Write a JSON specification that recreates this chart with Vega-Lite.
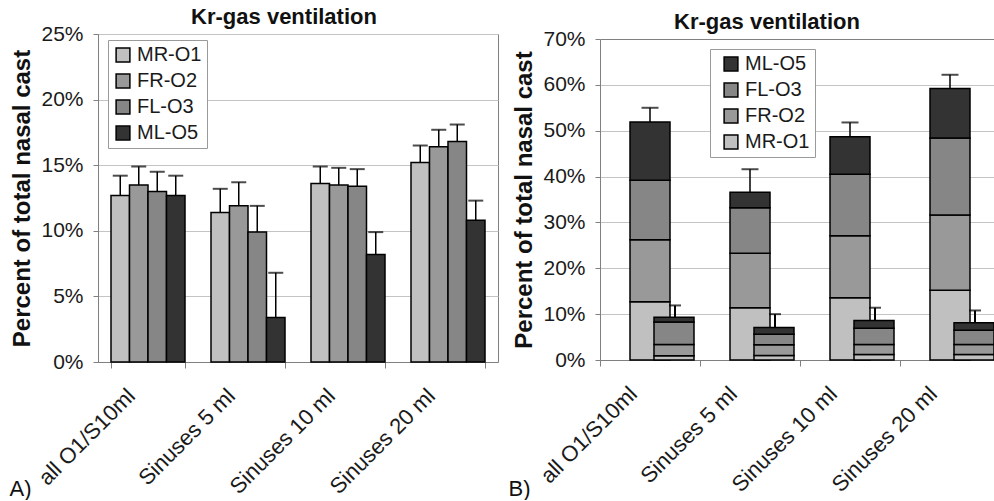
{
  "$schema": "https://vega.github.io/schema/vega-lite/v6.json",
  "background": "white",
  "padding": {"left": 8, "top": 5, "right": 0, "bottom": 0},
  "config": {
    "font": "Liberation Sans",
    "view": {"stroke": "#808080", "strokeWidth": 1},
    "axis": {
      "labelFont": "Liberation Sans",
      "titleFont": "Liberation Sans",
      "domainColor": "#808080",
      "tickColor": "#808080",
      "gridColor": "#c4c4c4",
      "labelColor": "#1a1a1a",
      "titleColor": "#111111"
    },
    "legend": {
      "labelFont": "Liberation Sans",
      "labelFontSize": 20,
      "labelColor": "#1a1a1a",
      "strokeColor": "#9a9a9a",
      "fillColor": "white",
      "padding": 5,
      "rowPadding": 6,
      "symbolType": "square",
      "symbolSize": 190,
      "symbolStrokeColor": "black",
      "symbolStrokeWidth": 1.5,
      "symbolOpacity": 1
    }
  },
  "datasets": {
    "bars": [
      {"category": "all O1/S10ml", "series": "MR-O1", "idx": 1, "value": 12.7, "hi": 14.2},
      {"category": "all O1/S10ml", "series": "FR-O2", "idx": 2, "value": 13.5, "hi": 14.9},
      {"category": "all O1/S10ml", "series": "FL-O3", "idx": 3, "value": 13.0, "hi": 14.5},
      {"category": "all O1/S10ml", "series": "ML-O5", "idx": 4, "value": 12.7, "hi": 14.2},
      {"category": "Sinuses 5 ml", "series": "MR-O1", "idx": 1, "value": 11.4, "hi": 13.2},
      {"category": "Sinuses 5 ml", "series": "FR-O2", "idx": 2, "value": 11.9, "hi": 13.7},
      {"category": "Sinuses 5 ml", "series": "FL-O3", "idx": 3, "value": 9.9, "hi": 11.9},
      {"category": "Sinuses 5 ml", "series": "ML-O5", "idx": 4, "value": 3.4, "hi": 6.8},
      {"category": "Sinuses 10 ml", "series": "MR-O1", "idx": 1, "value": 13.6, "hi": 14.9},
      {"category": "Sinuses 10 ml", "series": "FR-O2", "idx": 2, "value": 13.5, "hi": 14.8},
      {"category": "Sinuses 10 ml", "series": "FL-O3", "idx": 3, "value": 13.4, "hi": 14.7},
      {"category": "Sinuses 10 ml", "series": "ML-O5", "idx": 4, "value": 8.2, "hi": 9.9},
      {"category": "Sinuses 20 ml", "series": "MR-O1", "idx": 1, "value": 15.2, "hi": 16.5},
      {"category": "Sinuses 20 ml", "series": "FR-O2", "idx": 2, "value": 16.4, "hi": 17.7},
      {"category": "Sinuses 20 ml", "series": "FL-O3", "idx": 3, "value": 16.8, "hi": 18.1},
      {"category": "Sinuses 20 ml", "series": "ML-O5", "idx": 4, "value": 10.8, "hi": 12.3}
    ],
    "totals": [
      {"category": "all O1/S10ml", "total": 51.9, "hi": 55.0},
      {"category": "Sinuses 5 ml", "total": 36.6, "hi": 41.6},
      {"category": "Sinuses 10 ml", "total": 48.7, "hi": 51.8},
      {"category": "Sinuses 20 ml", "total": 59.2, "hi": 62.2}
    ],
    "small": [
      {"category": "all O1/S10ml", "series": "MR-O1", "idx": 1, "value": 0.9},
      {"category": "all O1/S10ml", "series": "FR-O2", "idx": 2, "value": 2.5},
      {"category": "all O1/S10ml", "series": "FL-O3", "idx": 3, "value": 4.9},
      {"category": "all O1/S10ml", "series": "ML-O5", "idx": 4, "value": 1.0},
      {"category": "Sinuses 5 ml", "series": "MR-O1", "idx": 1, "value": 1.0},
      {"category": "Sinuses 5 ml", "series": "FR-O2", "idx": 2, "value": 2.3},
      {"category": "Sinuses 5 ml", "series": "FL-O3", "idx": 3, "value": 2.3},
      {"category": "Sinuses 5 ml", "series": "ML-O5", "idx": 4, "value": 1.5},
      {"category": "Sinuses 10 ml", "series": "MR-O1", "idx": 1, "value": 1.2},
      {"category": "Sinuses 10 ml", "series": "FR-O2", "idx": 2, "value": 2.2},
      {"category": "Sinuses 10 ml", "series": "FL-O3", "idx": 3, "value": 3.5},
      {"category": "Sinuses 10 ml", "series": "ML-O5", "idx": 4, "value": 1.7},
      {"category": "Sinuses 20 ml", "series": "MR-O1", "idx": 1, "value": 1.2},
      {"category": "Sinuses 20 ml", "series": "FR-O2", "idx": 2, "value": 2.2},
      {"category": "Sinuses 20 ml", "series": "FL-O3", "idx": 3, "value": 3.1},
      {"category": "Sinuses 20 ml", "series": "ML-O5", "idx": 4, "value": 1.6}
    ],
    "smallTotals": [
      {"category": "all O1/S10ml", "total": 9.3, "hi": 11.9},
      {"category": "Sinuses 5 ml", "total": 7.1, "hi": 10.0},
      {"category": "Sinuses 10 ml", "total": 8.6, "hi": 11.4},
      {"category": "Sinuses 20 ml", "total": 8.1, "hi": 10.8}
    ]
  },
  "resolve": {
    "scale": {"x": "independent", "y": "independent", "fill": "independent"},
    "legend": {"fill": "independent"},
    "axis": {"x": "independent", "y": "independent"}
  },
  "spacing": 9,
  "hconcat": [
    {
      "width": 400,
      "height": 328,
      "title": {"text": "Kr-gas ventilation", "fontSize": 22, "fontWeight": "bold", "font": "Liberation Sans", "anchor": "middle", "dx": -14, "offset": -6, "color": "#111111"},
      "data": {"name": "bars"},
      "encoding": {
        "x": {
          "field": "category", "type": "nominal",
          "scale": {"domain": ["all O1/S10ml", "Sinuses 5 ml", "Sinuses 10 ml", "Sinuses 20 ml"], "paddingInner": 0.26, "paddingOuter": 0.13},
          "axis": {
            "title": "A)", "titleAnchor": "start", "titleAngle": 0, "titleX": -89, "titleY": 133, "titleBaseline": "alphabetic",
            "titleFontSize": 22, "titleFontWeight": "normal",
            "labelAngle": -45, "labelAlign": "right", "labelBaseline": "middle", "labelFontSize": 22, "labelOffset": -17,
            "tickBand": "extent", "tickSize": 6, "labelPadding": 24, "grid": false
          }
        },
        "xOffset": {"field": "series", "type": "nominal", "scale": {"domain": ["MR-O1", "FR-O2", "FL-O3", "ML-O5"], "paddingInner": 0, "paddingOuter": 0}}
      },
      "layer": [
        {
          "mark": {"type": "bar", "stroke": "black", "strokeWidth": 1.5},
          "encoding": {
            "y": {
              "field": "value", "type": "quantitative",
              "scale": {"domain": [0, 25], "nice": false},
              "axis": {"values": [0, 5, 10, 15, 20, 25], "labelExpr": "datum.value + '%'", "title": "Percent of total nasal cast",
                "titleFontSize": 24, "titleFontWeight": "bold", "labelFontSize": 21, "grid": true, "tickSize": 5, "labelPadding": 10, "titlePadding": 6}
            },
            "fill": {
              "field": "series", "type": "nominal",
              "scale": {"domain": ["MR-O1", "FR-O2", "FL-O3", "ML-O5"], "range": ["#c0c0c0", "#999999", "#868686", "#333333"]},
              "legend": {"title": null, "orient": "none", "legendX": 10, "legendY": 6}
            }
          }
        },
        {
          "mark": {"type": "rule", "color": "black", "strokeWidth": 1.5},
          "encoding": {"y": {"field": "value", "type": "quantitative"}, "y2": {"field": "hi"}}
        },
        {
          "mark": {"type": "tick", "color": "black", "size": 15, "thickness": 2},
          "encoding": {"y": {"field": "hi", "type": "quantitative"}}
        }
      ]
    },
    {
      "width": 400,
      "height": 326,
      "view": {"stroke": null},
      "title": {"text": "Kr-gas ventilation", "fontSize": 22, "fontWeight": "bold", "font": "Liberation Sans", "anchor": "middle", "dx": -33, "offset": -6, "color": "#111111"},
      "encoding": {
        "x": {
          "field": "category", "type": "nominal",
          "scale": {"domain": ["all O1/S10ml", "Sinuses 5 ml", "Sinuses 10 ml", "Sinuses 20 ml"], "paddingInner": 0, "paddingOuter": 0},
          "axis": {
            "title": "B)", "titleAnchor": "start", "titleAngle": 0, "titleX": -92, "titleY": 135, "titleBaseline": "alphabetic",
            "titleFontSize": 22, "titleFontWeight": "normal",
            "labelAngle": -45, "labelAlign": "right", "labelBaseline": "middle", "labelFontSize": 22, "labelOffset": -17,
            "tickBand": "extent", "tickSize": 6, "labelPadding": 24, "grid": false
          }
        }
      },
      "layer": [
        {
          "data": {"name": "bars"},
          "mark": {"type": "bar", "width": 40, "stroke": "black", "strokeWidth": 1.5},
          "encoding": {
            "y": {
              "field": "value", "type": "quantitative", "stack": "zero",
              "scale": {"domain": [0, 70], "nice": false, "range": [326, 5]},
              "axis": {"values": [0, 10, 20, 30, 40, 50, 60, 70], "labelExpr": "datum.value + '%'", "title": "Percent of total nasal cast",
                "titleFontSize": 24, "titleFontWeight": "bold", "labelFontSize": 21, "grid": true, "tickSize": 5, "labelPadding": 10, "titlePadding": 6,
                "gridColor": {"condition": {"test": "datum.value === 70", "value": "#808080"}, "value": "#c4c4c4"}}
            },
            "fill": {
              "field": "series", "type": "nominal",
              "scale": {"domain": ["ML-O5", "FL-O3", "FR-O2", "MR-O1"], "range": ["#333333", "#868686", "#999999", "#c0c0c0"]},
              "legend": {"title": null, "orient": "none", "legendX": 110, "legendY": 15, "symbolOffset": 6}
            },
            "order": {"field": "idx", "type": "quantitative", "sort": "ascending"}
          }
        },
        {
          "data": {"name": "totals"},
          "mark": {"type": "rule", "color": "black", "strokeWidth": 1.5},
          "encoding": {"y": {"field": "total", "type": "quantitative"}, "y2": {"field": "hi"}}
        },
        {
          "data": {"name": "totals"},
          "mark": {"type": "tick", "color": "black", "size": 17, "thickness": 2},
          "encoding": {"y": {"field": "hi", "type": "quantitative"}}
        },
        {
          "data": {"name": "small"},
          "mark": {"type": "bar", "width": 40, "xOffset": 24, "stroke": "black", "strokeWidth": 1.5},
          "encoding": {
            "y": {"field": "value", "type": "quantitative", "stack": "zero"},
            "fill": {"field": "series", "type": "nominal"},
            "order": {"field": "idx", "type": "quantitative", "sort": "ascending"}
          }
        },
        {
          "data": {"name": "smallTotals"},
          "mark": {"type": "rule", "color": "black", "strokeWidth": 2, "xOffset": 25},
          "encoding": {"y": {"field": "total", "type": "quantitative"}, "y2": {"field": "hi"}}
        },
        {
          "data": {"name": "smallTotals"},
          "mark": {"type": "tick", "color": "black", "size": 12, "thickness": 2, "xOffset": 25},
          "encoding": {"y": {"field": "hi", "type": "quantitative"}}
        }
      ]
    }
  ]
}
